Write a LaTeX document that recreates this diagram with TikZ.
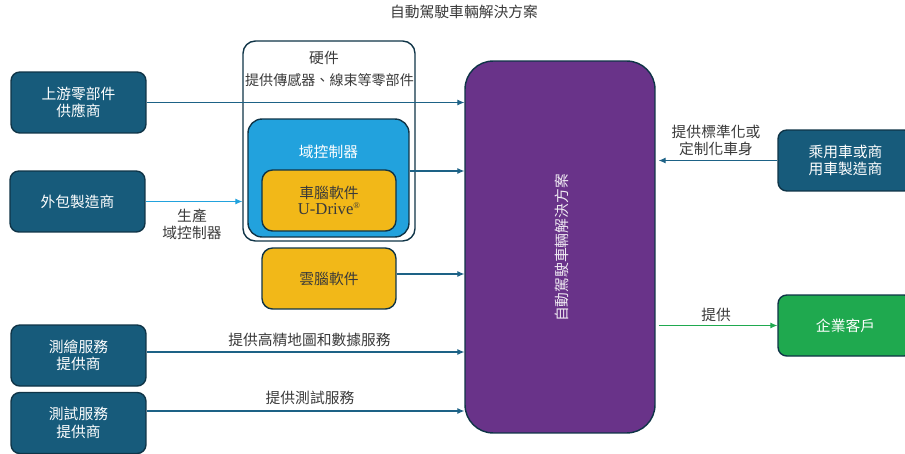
\documentclass[tikz,border=0pt]{standalone}
\usepackage{fontspec}
\setmainfont{Noto Sans CJK TC}
\newfontfamily\latinserif{Liberation Serif}
\usetikzlibrary{arrows.meta,calc}
\definecolor{tealbox}{HTML}{175B7B}
\definecolor{edgeline}{HTML}{0F3447}
\definecolor{flowline}{HTML}{1D6286}
\definecolor{domblue}{HTML}{22A2DD}
\definecolor{softyellow}{HTML}{F2B818}
\definecolor{solpurple}{HTML}{693389}
\definecolor{clientgreen}{HTML}{1FA94F}
\definecolor{labelgray}{HTML}{3A3A3A}
\tikzset{
	partner/.style={draw=edgeline, line width=0.8pt, fill=tealbox, rounded corners=5pt, minimum width=2.7cm, minimum height=1.22cm, inner sep=0pt, text=white, align=center},
	softbox/.style={draw=edgeline, line width=0.8pt, fill=softyellow, rounded corners=6pt, minimum width=2.68cm, minimum height=1.22cm, inner sep=0pt, text=labelgray, align=center},
	flow/.style={draw=flowline, line width=0.6pt, -{Latex[length=4pt,width=3.5pt]}},
	note/.style={text=labelgray, align=center, inner sep=1pt},
}

\begin{document}
\begin{tikzpicture}[x=0.02cm, y=-0.02cm, font=\fontsize{8.4}{10}\selectfont]
			%%%%% START %%%%%
			\useasboundingbox (0, 0) rectangle (905, 453);
			
			\node[note] (title) at (464, 12) {自動駕駛車輛解決方案};
			
			% left partners
			\node[partner] (upstream) at (78.5, 102.5) {上游零部件\\供應商};
			\node[partner] (outsource) at (77.5, 201.5) {外包製造商};
			\node[partner] (mapping) at (78.5, 355.5) {測繪服務\\提供商};
			\node[partner] (testing) at (78.5, 423) {測試服務\\提供商};
			
			% hardware group
			\node[draw=edgeline, line width=0.8pt, fill=white, rounded corners=7pt, minimum width=3.44cm, minimum height=4cm, inner sep=0pt] (hardware) at (329, 141) {};
			\node[note] (hwtitle) at (324, 58) {硬件};
			\node[note, font=\fontsize{8}{10}\selectfont] (hwtext) at (329.5, 80) {提供傳感器、線束等零部件};
			\node[draw=edgeline, line width=0.8pt, fill=domblue, rounded corners=8pt, minimum width=3.22cm, minimum height=2.36cm, inner sep=0pt] (domain) at (328.5, 178) {};
			\node[text=white, inner sep=1pt] (domtext) at (328.5, 152) {域控制器};
			\node[softbox] (brain) at (329, 200.5) {車腦軟件\\[-1pt]{\latinserif\fontsize{9.5}{10}\selectfont U-Drive\raisebox{0.75ex}{\fontsize{5}{5}\selectfont ®}}};
			\node[softbox] (cloud) at (329, 278.5) {雲腦軟件};
			
			% solution
			\node[draw=edgeline, line width=0.8pt, fill=solpurple, rounded corners=16pt, minimum width=3.8cm, minimum height=7.44cm, inner sep=0pt] (solution) at (560, 247) {};
			\node[rotate=90, text=white!90!solpurple] (soltext) at (562, 248) {自動駕駛車輛解決方案};
			
			% right side
			\node[partner] (carmaker) at (845.5, 160.5) {乘用車或商\\用車製造商};
			\node[partner, fill=clientgreen] (client) at (845.5, 325.5) {企業客戶};
			
			% flows
			\draw[flow] (upstream.east) -- (upstream.east -| solution.west);
			\draw[flow] ([yshift=0.14cm]domain.east) -- ([yshift=0.14cm]domain.east -| solution.west);
			\draw[flow, draw=domblue] (outsource.east) -- (outsource.east -| hardware.west);
			\draw[flow] ([yshift=0.09cm]cloud.east) -- ([yshift=0.09cm]cloud.east -| solution.west);
			\draw[flow] ([yshift=0.07cm]mapping.east) -- ([yshift=0.07cm]mapping.east -| solution.west);
			\draw[flow] ([yshift=0.24cm]testing.east) -- ([yshift=0.24cm]testing.east -| solution.west);
			\draw[flow] (carmaker.west) -- ([xshift=0.06cm]carmaker.west -| solution.east);
			\draw[flow, draw=clientgreen] ([xshift=0.06cm]client.west -| solution.east) -- (client.west);
			
			% flow labels
			\node[note] (makelabel) at (192, 224.5) {生產\\域控制器};
			\node[note] (maplabel) at (309.5, 340) {提供高精地圖和數據服務};
			\node[note] (testlabel) at (310, 398) {提供測試服務};
			\node[note] (bodylabel) at (716, 140.5) {提供標準化或\\定制化車身};
			\node[note] (offerlabel) at (716, 315) {提供};
			%%%%% END %%%%%
\end{tikzpicture}
\end{document}
